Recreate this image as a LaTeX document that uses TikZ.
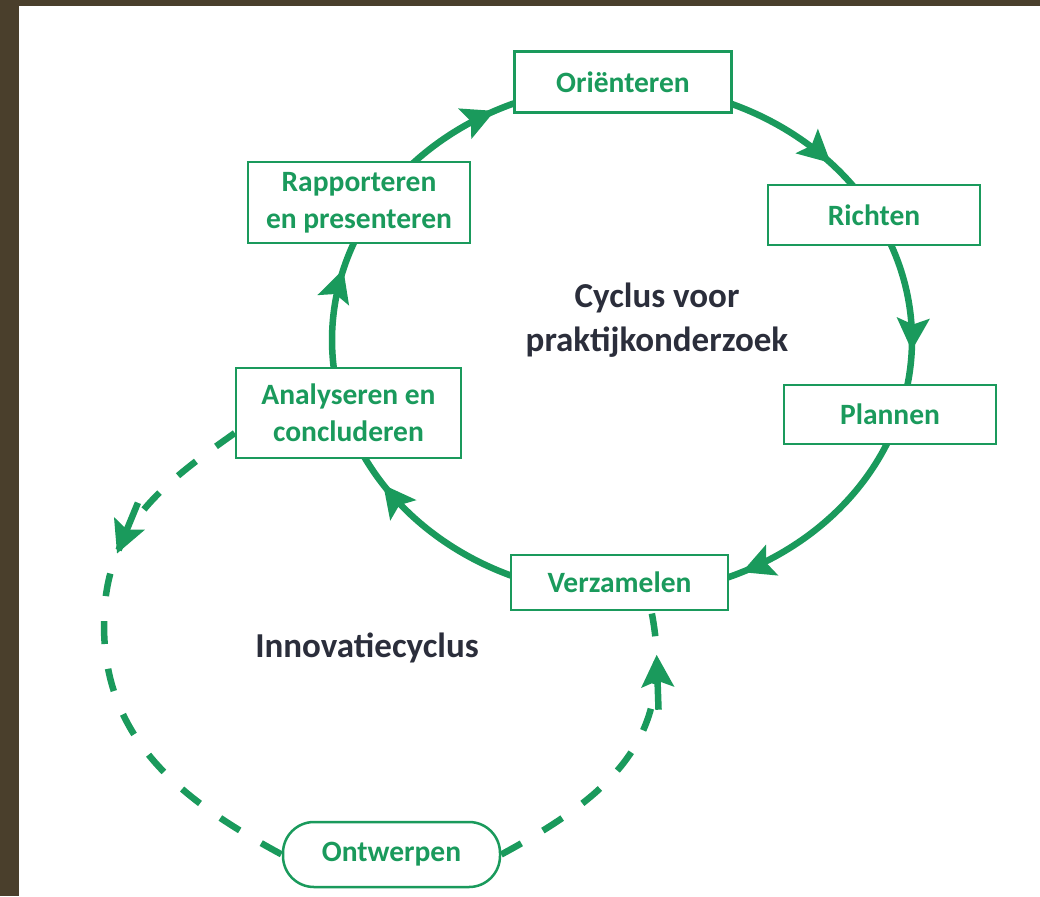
\documentclass[tikz,border=0pt]{standalone}
\usepackage{fontspec}
\setmainfont{Carlito}
\usetikzlibrary{arrows.meta,decorations.markings,calc}
\definecolor{grn}{HTML}{1A9A5C}
\definecolor{ink}{HTML}{2B2E3B}
\definecolor{framecol}{HTML}{4A3F2C}
\pgfdeclarelayer{bg}
\pgfdeclarelayer{lines}
\pgfsetlayers{bg,lines,main}
\tikzset{bigtip/.tip={Stealth[length=32pt,width=32pt,inset=6pt]}}
\begin{document}
\begin{tikzpicture}[x=1pt,y=1pt,
  box/.style={draw=grn, line width=2.5pt, fill=white, text=grn,
    font=\fontsize{29.5}{37}\selectfont\bfseries, align=center, inner sep=0pt},
  titletext/.style={text=ink, font=\fontsize{35}{44}\selectfont\bfseries, align=center, inner sep=0pt},
  flow/.style={draw=grn, line width=6.5pt},
  dflow/.style={draw=grn, line width=6.5pt, dash pattern=on 23pt off 25pt},
  mk/.style={postaction={decorate}, decoration={markings,
    mark=at position #1 with {\arrow{bigtip}}}},
  dmk/.style={postaction={decorate}, decoration={markings,
    mark=at position #1 with {\draw[grn, line width=6.5pt, solid] (-55pt,0) -- (-10pt,0); \arrow{bigtip}}}},
  ell/.style={x radius=290pt, y radius=255pt}]
\useasboundingbox (0,0) rectangle (1040,-896);
\begin{pgfonlayer}{bg}
  \fill[framecol] (0,0) rectangle (1040,-896);
  \fill[white] (19,-6) rectangle (1040,-896);
\end{pgfonlayer}

% nodes
\node[box, minimum width=217pt, minimum height=61pt] (ori) at (623,-82) {Oriënteren};
\node[box, minimum width=212pt, minimum height=60pt] (ric) at (874,-215) {Richten};
\node[box, minimum width=212pt, minimum height=59pt] (pla) at (890,-414.5) {Plannen};
\node[box, minimum width=217pt, minimum height=55pt] (ver) at (619.5,-582.5) {Verzamelen};
\node[box, minimum width=225pt, minimum height=90pt] (anal) at (348.5,-413) {Analyseren en\\concluderen};
\node[box, minimum width=222pt, minimum height=81pt] (rapp) at (359,-202.5) {Rapporteren\\en presenteren};
\node[box, rounded corners=31pt, minimum width=217pt, minimum height=65pt] (ontw) at (391.5,-854.5) {Ontwerpen};
\node[titletext] (cyc) at (657,-320) {Cyclus voor\\praktijkonderzoek};
\node[titletext] (inno) at (367,-648) {Innovatiecyclus};

% points of the research cycle (hidden under the boxes)
\coordinate (c) at (622,-340);
\coordinate (pOri) at ($(c)+(90:290pt and 255pt)$);
\coordinate (pRic) at ($(c)+(29.4:290pt and 255pt)$);
\coordinate (pPla) at ($(c)+(-17.4:290pt and 255pt)$);
\coordinate (pVer) at ($(c)+(-90:290pt and 255pt)$);
\coordinate (pAna) at ($(c)+(196.8:290pt and 255pt)$);
\coordinate (pRap) at ($(c)+(149.4:290pt and 255pt)$);

\begin{pgfonlayer}{lines}
  \draw[flow, mk=0.77] (pOri) arc[start angle=90, end angle=29.4, ell];
  \draw[flow, mk=0.68] (pRic) arc[start angle=29.4, end angle=-17.4, ell];
  \draw[flow, mk=0.65] (pPla) arc[start angle=-17.4, end angle=-90, ell];
  \draw[flow, mk=0.77] (pVer) arc[start angle=-90, end angle=-163.2, ell];
  \draw[flow, mk=0.69] (pAna) arc[start angle=-163.2, end angle=-210.6, ell];
  \draw[flow, mk=0.55] (pRap) arc[start angle=-210.6, end angle=-270, ell];

  \draw[dflow, dmk=0.31] (anal.190) .. controls (158,-487) and (104,-530) .. (104,-625)
        .. controls (104,-740) and (181,-800) .. (ontw.west);
  \draw[dflow, dmk=0.86] (ontw.east) .. controls (614,-793.5) and (676,-737) .. (ver.-42);
\end{pgfonlayer}
\end{tikzpicture}
\end{document}
